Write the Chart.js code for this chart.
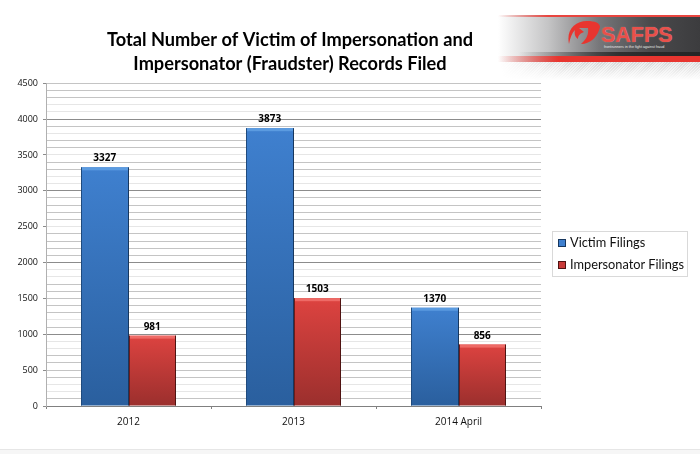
<!DOCTYPE html>
<html>
<head>
<meta charset="utf-8">
<title>SAFPS filings</title>
<script src="https://cdn.jsdelivr.net/npm/chart.js@4/dist/chart.umd.min.js"></script>
<style>
    html, body { margin: 0; padding: 0; background: #fff; }
    #wrap { position: relative; width: 700px; height: 454px; overflow: hidden; }
    #myChart { position: absolute; left: 0; top: 0; }
    #banner { position: absolute; left: 498px; top: 15px; width: 202px; height: 47px;
        background:
            linear-gradient(to right, rgba(232,69,63,0) 0%, #e8453f 25%) top / 100% 2px no-repeat,
            linear-gradient(to right, rgba(232,53,47,0) 0%, #e8352f 30%) bottom / 100% 6px no-repeat,
            linear-gradient(to right, rgba(30,30,30,0) 10%, rgba(30,30,30,.75) 60%) 0 37px / 100% 4px no-repeat,
            linear-gradient(to right, #fff 0%, #c4c4c5 25%, #77777a 50%, #4a4a4c 75%, #3c3c3e 100%); }
    #hatch { position: absolute; left: 500px; top: 62px; width: 200px; height: 18px;
        background: linear-gradient(to bottom, rgba(255,255,255,0), #fff),
            repeating-linear-gradient(135deg, #d8d8d8 0 1px, #ececec 1px 2px);
        -webkit-mask-image: linear-gradient(to right, transparent, #000 35%);
        mask-image: linear-gradient(to right, transparent, #000 35%); }
    #logoText { position: absolute; left: 601px; top: 23px; font: bold 21.5px "Liberation Sans", sans-serif; color: #e9504a;
        text-shadow: 0 0 1px rgba(255,200,200,.6); }
    #tagline { position: absolute; left: 604px; top: 45px; font: 3.7px "Liberation Sans", sans-serif; color: #e8e8e8; white-space: nowrap; }
    #logoMark { position: absolute; left: 567px; top: 20px; }
    #footer { position: absolute; left: 0; top: 449px; width: 700px; height: 5px; background: #f6f6f6; border-top: 1px solid #e6e6e6; box-sizing: border-box; }
    #legend { position: absolute; left: 552px; top: 231px; width: 136px; height: 46px; box-sizing: border-box;
        border: 1px solid #d9d9d9; font: 12.8px Lato, sans-serif; color: #111; }
    #legend div { position: absolute; left: 17px; white-space: nowrap; }
    #legend i { position: absolute; left: -12px; width: 6px; height: 6px; border: 1px solid; box-sizing: content-box; }
</style>
</head>
<body>
<div id="wrap">
    <div id="hatch"></div>
    <div id="banner"></div>
    <svg id="logoMark" width="34" height="26" viewBox="0 0 34 26">
        <path d="M2 24 C-1 10 8 1 20 1 C28 1 33 3 33 7 C31 16 24 24 14 24 C19 20 22 15 21 8 L12 8 L17 12 C14 13 11 15 11 19 C8 17 7 14 8 10 C5 13 3 18 2 24 Z" fill="#e8352f"/>
    </svg>
    <div id="logoText">SAFPS</div>
    <div id="tagline">frontrunners in the fight against fraud</div>
    <canvas id="myChart" width="700" height="454"></canvas>
    <div id="legend">
        <div style="top:2px"><i style="top:5px;background:#3f80cf;border-color:#17375e"></i>Victim Filings</div>
        <div style="top:24px"><i style="top:5px;background:#c93a38;border-color:#4f1312"></i>Impersonator Filings</div>
    </div>
    <div id="footer"></div>
</div>
<script>
(function () {
    'use strict';

    var categories = ['2012', '2013', '2014 April'];
    var victimFilings = [3327, 3873, 1370];
    var impersonatorFilings = [981, 1503, 856];
    var titleLines = ['Total Number of Victim of Impersonation and', 'Impersonator (Fraudster) Records Filed'];
    // gridlines that came out washed out in the original picture
    var paleLines = [4200, 4100, 3800, 3500, 3200, 3100, 2500, 1900, 1800, 1200, 900, 800, 300, 200];

    function barFill(top, bottom) {
        return function (context) {
            var scale = context.chart.scales.y;
            if (!scale || context.raw === undefined) {
                return top;
            }
            var y0 = scale.getPixelForValue(context.raw);
            var y1 = scale.getPixelForValue(0);
            if (!isFinite(y0) || !isFinite(y1)) {
                return top;
            }
            var gradient = context.chart.ctx.createLinearGradient(0, y0, 0, y1);
            gradient.addColorStop(0, top);
            gradient.addColorStop(1, bottom);
            return gradient;
        };
    }

    // value labels and the bevel round each bar
    var barExtras = {
        id: 'barExtras',
        afterLayout: function (chart) {
            // title sits a bit left of the plot centre in the original
            chart.titleBlock.left -= 3.5;
            chart.titleBlock.right -= 3.5;
        },
        afterDatasetsDraw: function (chart) {
            var ctx = chart.ctx;
            ctx.save();
            chart.data.datasets.forEach(function (dataset, d) {
                chart.getDatasetMeta(d).data.forEach(function (bar, i) {
                    var left = Math.round(bar.x - bar.width / 2);
                    var right = Math.round(bar.x + bar.width / 2);
                    var height = bar.base - bar.y;
                    ctx.fillStyle = d === 0 ? '#5b9be0' : '#ee6a66';
                    ctx.fillRect(left, bar.y, right - left, 3);
                    ctx.fillStyle = d === 0 ? '#1f4a7d' : '#6e1c1b';
                    ctx.fillRect(left, bar.y, 1, height);
                    ctx.fillStyle = d === 0 ? '#17375e' : '#4f1312';
                    ctx.fillRect(right - 1, bar.y, 1, height);
                    ctx.fillStyle = '#000';
                    ctx.font = 'bold 10px "Open Sans", sans-serif';
                    ctx.textAlign = 'center';
                    ctx.textBaseline = 'alphabetic';
                    ctx.fillText(dataset.data[i], bar.x, bar.y - 6);
                });
            });
            ctx.restore();
        }
    };

    Chart.defaults.animation = false;

    new Chart(document.getElementById('myChart'), {
        type: 'bar',
        data: {
            labels: categories,
            datasets: [{
                label: 'Victim Filings',
                data: victimFilings,
                backgroundColor: barFill('#3f80cf', '#2a5f9e'),
                borderWidth: 0,
                barPercentage: 1,
                categoryPercentage: 0.575
            }, {
                label: 'Impersonator Filings',
                data: impersonatorFilings,
                backgroundColor: barFill('#dd4340', '#9b2f2d'),
                borderWidth: 0,
                barPercentage: 1,
                categoryPercentage: 0.575
            }]
        },
        options: {
            responsive: false,
            layout: { padding: { left: 0, right: 159, top: 0, bottom: 0 } },
            plugins: {
                title: {
                    display: true,
                    fullSize: false,
                    text: titleLines,
                    color: '#000',
                    font: { family: 'Lato, sans-serif', size: 18.2, weight: 'bold', lineHeight: 1.27 },
                    padding: { top: 29, bottom: 8 }
                },
                legend: { display: false },
                tooltip: { enabled: false }
            },
            scales: {
                x: {
                    afterFit: function (axis) {
                        axis.height = 48;
                    },
                    grid: { offset: true, drawOnChartArea: false, color: '#808080', tickLength: 3 },
                    border: { color: '#808080' },
                    ticks: { color: '#111', padding: 7, font: { family: '"Open Sans", sans-serif', size: 10 } }
                },
                y: {
                    min: 0,
                    max: 4500,
                    afterFit: function (axis) {
                        axis.width = 46;
                    },
                    afterBuildTicks: function (axis) {
                        var ticks = [];
                        for (var v = 0; v <= 4500; v += 100) {
                            ticks.push({ value: v });
                        }
                        axis.ticks = ticks;
                    },
                    grid: {
                        color: function (context) {
                            var v = context.tick.value;
                            if (v % 1000 === 0) {
                                return '#8c8c8c';
                            }
                            return paleLines.indexOf(v) >= 0 ? '#e6e6e6' : '#c4c4c4';
                        },
                        tickColor: function (context) {
                            return context.tick.value % 500 === 0 ? '#8c8c8c' : 'rgba(0,0,0,0)';
                        },
                        tickLength: 3
                    },
                    border: { color: '#b0b0b0' },
                    ticks: {
                        autoSkip: false,
                        color: '#111',
                        padding: 5,
                        font: { family: '"Open Sans", sans-serif', size: 9 },
                        callback: function (value) {
                            return value % 500 === 0 ? value : '';
                        }
                    }
                }
            }
        },
        plugins: [barExtras]
    });
})();
</script>
</body>
</html>
